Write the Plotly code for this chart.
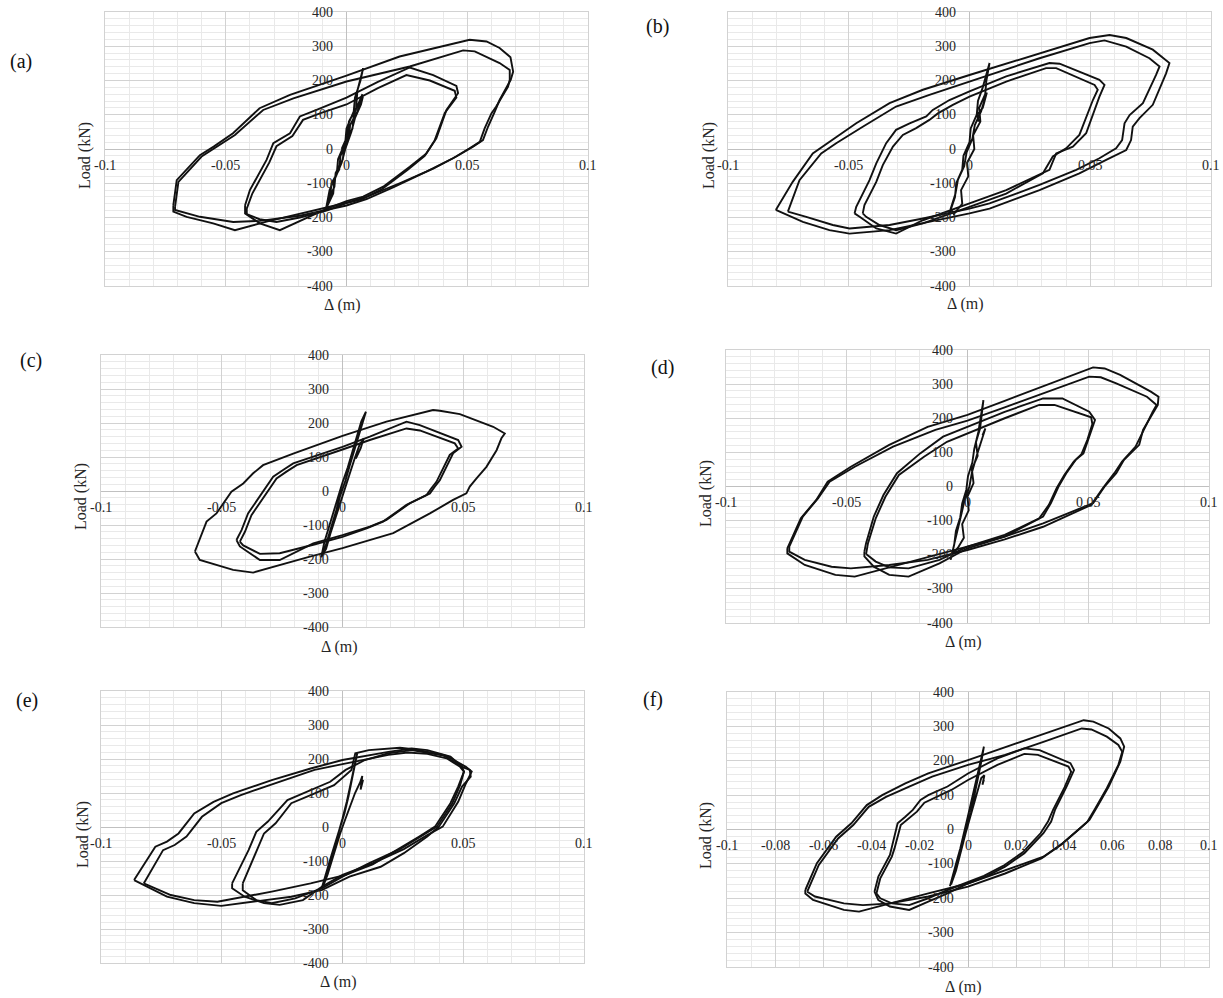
import plotly.graph_objects as go

W, H = 1223, 998

# ---------------- data (displacement in m, load in kN) ----------------
Y_TICKS = [400, 300, 200, 100, 0, -100, -200, -300, -400]
X_TICKS_STD = [-0.1, -0.05, 0, 0.05, 0.1]
X_TEXT_STD = ["-0.1", "-0.05", "0", "0.05", "0.1"]
X_TICKS_F = [-0.1, -0.08, -0.06, -0.04, -0.02, 0, 0.02, 0.04, 0.06, 0.08, 0.1]
X_TEXT_F = ["-0.1", "-0.08", "-0.06", "-0.04", "-0.02", "0", "0.02", "0.04", "0.06", "0.08", "0.1"]

# Panel (a)
A_SMALL_X = [-0.002, 0.0005, 0.001, 0.004, 0.0045, 0.0069, 0.0058, 0.0035, 0.003, 0.0, -0.0005, -0.0035, -0.004, -0.007, -0.0085, -0.0068, -0.0062, -0.003, -0.0025, 0.001, 0.0015, 0.0045, 0.0068, 0.006, 0.0035, 0.002, -0.0005, -0.002, -0.005, -0.0055, -0.0082, -0.0075, -0.005, -0.0045, -0.0015, -0.001, 0.0025, 0.003, 0.0055, 0.0066]
A_SMALL_Y = [0, 40, 80, 120, 170, 236, 200, 150, 110, 60, 20, -30, -70, -120, -175, -140, -100, -60, -20, 30, 70, 110, 153, 130, 90, 50, 0, -40, -90, -130, -170, -150, -110, -70, -30, 10, 60, 100, 140, 160]
A_OUT1_X = [-0.0717, -0.0703, -0.0607, -0.055, -0.047, -0.036, -0.0234, 0.0, 0.022, 0.051, 0.058, 0.0634, 0.0679, 0.069, 0.068, 0.0634, 0.0614, 0.0586, 0.0565, 0.0524, 0.0455, 0.0359, 0.022, 0.0083, 0.0, -0.0193, -0.0331, -0.0462, -0.0552, -0.0662, -0.0717, -0.0717]
A_OUT1_Y = [-164, -91, -18, 7, 46, 119, 158, 214, 270, 319, 314, 295, 268, 226, 202, 143, 109, 65, 26, 7, -22, -57, -100, -140, -157, -190, -212, -237, -217, -198, -183, -164]
A_OUT2_X = [-0.071, -0.0696, -0.06, -0.0524, -0.0462, -0.0345, -0.022, 0.0, 0.0262, 0.0483, 0.0531, 0.0634, 0.0676, 0.0676, 0.0669, 0.062, 0.06, 0.0572, 0.0552, 0.051, 0.0441, 0.0331, 0.0193, 0.0083, 0.0, -0.0193, -0.0359, -0.0469, -0.0607, -0.071, -0.071]
A_OUT2_Y = [-169, -96, -22, 12, 41, 114, 148, 197, 241, 288, 285, 251, 231, 202, 182, 124, 104, 60, 21, 2, -27, -66, -112, -146, -165, -195, -210, -213, -198, -178, -169]
A_IN1_X = [-0.042, -0.04, -0.0331, -0.0303, -0.0234, -0.0193, -0.0124, 0.0, 0.013, 0.0262, 0.0359, 0.0455, 0.0462, 0.0414, 0.0372, 0.0331, 0.0262, 0.0152, 0.0069, 0.0, -0.0083, -0.0193, -0.0276, -0.0359, -0.042, -0.042]
A_IN1_Y = [-164, -120, -32, 17, 46, 95, 114, 150, 196, 238, 216, 184, 163, 114, 31, -13, -52, -110, -139, -152, -175, -210, -237, -217, -188, -164]
A_IN2_X = [-0.0413, -0.039, -0.032, -0.029, -0.0224, -0.018, -0.011, 0.0, 0.013, 0.0248, 0.0345, 0.0448, 0.0455, 0.0407, 0.0365, 0.0324, 0.0255, 0.0145, 0.0062, 0.0, -0.0083, -0.0193, -0.029, -0.036, -0.0413, -0.0413]
A_IN2_Y = [-174, -130, -40, 8, 38, 85, 104, 130, 178, 216, 200, 170, 150, 105, 25, -20, -60, -118, -147, -158, -180, -200, -213, -205, -190, -174]

# Panel (b)
B_SMALL_X = [-0.0083, -0.006, -0.0055, -0.003, -0.0025, 0.0, 0.0005, 0.003, 0.0035, 0.0055, 0.0083, 0.007, 0.0065, 0.004, 0.0045, 0.0015, 0.002, -0.001, -0.0005, -0.0035, -0.003, -0.0065, -0.0078, -0.0058, -0.0048, -0.0022, -0.0012, 0.0012, 0.0022, 0.0048, 0.0072, 0.0062, 0.0055, 0.0032, 0.0038]
B_SMALL_Y = [-188, -140, -100, -60, -20, 20, 60, 100, 140, 180, 251, 200, 160, 120, 80, 40, 0, -40, -80, -120, -160, -190, -175, -130, -90, -50, -10, 30, 70, 110, 165, 140, 120, 100, 80]
B_OUT1_X = [-0.0802, -0.0732, -0.0649, -0.058, -0.0469, -0.0331, -0.0193, 0.0, 0.029, 0.0497, 0.058, 0.0649, 0.0759, 0.0828, 0.0814, 0.0759, 0.0704, 0.0676, 0.0669, 0.0649, 0.0566, 0.0455, 0.029, 0.0083, 0.0, -0.0193, -0.0331, -0.0497, -0.058, -0.069, -0.0802]
B_OUT1_Y = [-178, -96, -13, 21, 75, 134, 173, 216, 280, 324, 333, 324, 290, 251, 221, 129, 90, 65, 26, -3, -32, -71, -120, -174, -188, -217, -237, -247, -237, -213, -178]
B_OUT2_X = [-0.0752, -0.0704, -0.0614, -0.0552, -0.0442, -0.0304, -0.0166, 0.0, 0.029, 0.0497, 0.0559, 0.0649, 0.0745, 0.0787, 0.0773, 0.0718, 0.0663, 0.0642, 0.0632, 0.0607, 0.0538, 0.0442, 0.029, 0.0083, 0.0, -0.0193, -0.0331, -0.0497, -0.0566, -0.0676, -0.0752]
B_OUT2_Y = [-183, -91, -13, 17, 65, 124, 158, 197, 265, 309, 317, 299, 265, 241, 217, 134, 99, 75, 26, 2, -27, -61, -105, -159, -174, -203, -222, -232, -222, -198, -183]
B_IN1_X = [-0.0476, -0.0469, -0.0414, -0.0386, -0.0345, -0.0304, -0.0248, -0.0179, -0.0152, -0.0083, 0.0, 0.0152, 0.0331, 0.0373, 0.0538, 0.0559, 0.0538, 0.0483, 0.0428, 0.0359, 0.0331, 0.0152, 0.0, -0.0193, -0.0304, -0.0386, -0.0455, -0.0476]
B_IN1_Y = [-188, -169, -91, -42, 17, 56, 75, 95, 114, 143, 168, 212, 251, 249, 202, 187, 153, 46, 7, -13, -61, -120, -159, -208, -247, -232, -198, -188]
B_IN2_X = [-0.0442, -0.0435, -0.0386, -0.0359, -0.0317, -0.0276, -0.0221, -0.0166, -0.0131, -0.0069, 0.0, 0.0152, 0.0317, 0.0359, 0.0518, 0.0531, 0.0511, 0.0455, 0.04, 0.0345, 0.0304, 0.0152, 0.0, -0.0193, -0.0304, -0.0373, -0.0428, -0.0442]
B_IN2_Y = [-188, -164, -96, -47, 7, 41, 61, 85, 104, 129, 153, 197, 236, 236, 187, 173, 143, 41, 2, -22, -71, -130, -169, -217, -237, -222, -198, -188]

# Panel (c)
C_SMALL_X = [-0.008, -0.006, -0.0045, -0.0025, -0.001, 0.0012, 0.003, 0.005, 0.0068, 0.0085, 0.0097, 0.0078, 0.006, 0.0042, 0.0022, 0.0, -0.002, -0.004, -0.0058, -0.0075, -0.0088, -0.0068, -0.005, -0.003, -0.001, 0.001, 0.003, 0.005, 0.007, 0.0088, 0.0075, 0.0055]
C_SMALL_Y = [-185, -140, -100, -55, -15, 30, 75, 120, 165, 205, 233, 205, 160, 115, 70, 25, -20, -65, -110, -150, -195, -170, -125, -80, -35, 10, 55, 95, 135, 155, 125, 95]
C_OUT_X = [-0.0611, -0.0563, -0.0522, -0.046, -0.0411, -0.037, -0.0329, -0.0204, 0.0, 0.0182, 0.0375, 0.0403, 0.0486, 0.0624, 0.0672, 0.0658, 0.0638, 0.0596, 0.0555, 0.0527, 0.0513, 0.0458, 0.0362, 0.021, 0.0, -0.0135, -0.037, -0.0453, -0.0591, -0.0611]
C_OUT_Y = [-178, -90, -66, -2, 22, 52, 76, 110, 162, 204, 238, 236, 226, 189, 169, 155, 120, 71, 37, 13, -7, -26, -66, -124, -168, -193, -240, -232, -203, -178]
C_IN1_X = [-0.0439, -0.0418, -0.0391, -0.0329, -0.0287, -0.0246, -0.0204, 0.0, 0.0113, 0.0265, 0.032, 0.0479, 0.0493, 0.0458, 0.0403, 0.0382, 0.0362, 0.0279, 0.0182, 0.0113, 0.0, -0.0121, -0.026, -0.0342, -0.0425, -0.0439]
C_IN1_Y = [-144, -115, -66, -2, 42, 62, 81, 130, 160, 204, 194, 150, 130, 111, 32, 13, -7, -36, -85, -105, -130, -154, -203, -203, -163, -144]
C_IN2_X = [-0.0425, -0.0404, -0.0377, -0.0315, -0.0273, -0.0232, -0.019, 0.0, 0.0113, 0.0265, 0.032, 0.0465, 0.0479, 0.0444, 0.0389, 0.0368, 0.0348, 0.0265, 0.0168, 0.01, 0.0, -0.0121, -0.026, -0.0342, -0.0411, -0.0425]
C_IN2_Y = [-149, -120, -71, -7, 37, 57, 76, 122, 150, 184, 178, 140, 125, 106, 27, 8, -12, -41, -90, -110, -135, -158, -183, -185, -160, -149]

# Panel (d)
D_SMALL_X = [-0.007, -0.0055, -0.0048, -0.003, -0.0022, -0.0005, 0.0002, 0.002, 0.0028, 0.0045, 0.0066, 0.0058, 0.0052, 0.0035, 0.0042, 0.0018, 0.0025, 0.0, 0.0005, -0.0022, -0.0015, -0.004, -0.0065, -0.0052, -0.004, -0.0025, -0.0012, 0.0008, 0.0018, 0.0038, 0.0074, 0.0062]
D_SMALL_Y = [-215, -170, -130, -90, -50, -10, 30, 70, 110, 160, 253, 210, 170, 130, 90, 50, 10, -30, -70, -110, -150, -180, -200, -160, -120, -80, -40, 0, 40, 90, 170, 150]
D_OUT1_X = [-0.0746, -0.069, -0.0627, -0.0579, -0.0483, -0.0324, -0.0165, 0.0, 0.0154, 0.0313, 0.052, 0.0568, 0.0632, 0.0759, 0.0791, 0.0788, 0.0727, 0.0711, 0.0648, 0.0616, 0.0568, 0.052, 0.0313, 0.0154, 0.0, -0.0165, -0.0324, -0.0467, -0.0547, -0.0674, -0.0746, -0.0746]
D_OUT1_Y = [-181, -93, -40, 14, 58, 122, 175, 210, 251, 293, 349, 346, 327, 278, 263, 239, 166, 122, 78, 39, 0, -49, -108, -147, -176, -206, -235, -264, -259, -230, -196, -181]
D_OUT2_X = [-0.0738, -0.0682, -0.0619, -0.0571, -0.0467, -0.0308, -0.0133, 0.0, 0.0154, 0.0313, 0.0504, 0.0552, 0.0616, 0.0743, 0.0783, 0.0767, 0.0711, 0.0696, 0.064, 0.0608, 0.056, 0.0512, 0.0313, 0.0154, 0.0, -0.0165, -0.0324, -0.0483, -0.0563, -0.0674, -0.0738, -0.0738]
D_OUT2_Y = [-176, -88, -35, 14, 58, 117, 166, 193, 232, 273, 322, 320, 302, 263, 239, 219, 136, 117, 73, 39, -5, -54, -118, -155, -186, -215, -230, -240, -235, -215, -191, -176]
D_IN1_X = [-0.0427, -0.042, -0.0388, -0.0348, -0.0292, -0.0196, -0.0101, 0.0, 0.0154, 0.0313, 0.0393, 0.0504, 0.0528, 0.0504, 0.048, 0.0448, 0.0409, 0.0377, 0.0345, 0.0313, 0.0154, 0.0, -0.0116, -0.0244, -0.0324, -0.0388, -0.0427, -0.0427]
D_IN1_Y = [-191, -166, -88, -25, 39, 97, 146, 175, 219, 258, 258, 219, 195, 146, 97, 78, 39, 0, -49, -88, -147, -181, -225, -264, -259, -235, -205, -191]
D_IN2_X = [-0.042, -0.0412, -0.038, -0.034, -0.0284, -0.018, -0.0085, 0.0, 0.0154, 0.0297, 0.036, 0.0512, 0.0517, 0.0496, 0.0472, 0.044, 0.0401, 0.0369, 0.0337, 0.0297, 0.0154, 0.0, -0.0116, -0.0244, -0.0324, -0.038, -0.042]
D_IN2_Y = [-198, -166, -93, -30, 34, 87, 131, 156, 200, 239, 239, 203, 183, 136, 95, 73, 34, -5, -54, -93, -142, -176, -215, -240, -237, -220, -198]

# Panel (e)
E_SMALL_X = [-0.0084, -0.0068, -0.0055, -0.004, -0.0025, -0.001, 0.0008, 0.0025, 0.004, 0.0053, 0.0061, 0.005, 0.0035, 0.0018, 0.0, -0.0018, -0.0035, -0.005, -0.0065, -0.0078, -0.0062, -0.0045, -0.003, -0.001, 0.001, 0.003, 0.0052, 0.0072, 0.0085, 0.0075, 0.0082, 0.007]
E_SMALL_Y = [-175, -140, -105, -70, -35, 0, 40, 90, 140, 185, 217, 175, 125, 75, 25, -20, -60, -100, -140, -170, -140, -100, -60, -20, 20, 60, 100, 130, 138, 110, 150, 125]
E_L1_X = [-0.0863, -0.0775, -0.0727, -0.0679, -0.0614, -0.0534, -0.0453, -0.0293, -0.0132, 0.0, 0.019, 0.0286, 0.0351, 0.0447, 0.0495, 0.0527, 0.0531, 0.0495, 0.0463, 0.0399, 0.0351, 0.0254, 0.0158, 0.0029, -0.0084, -0.0212, -0.0502, -0.0614, -0.0727, -0.0863]
E_L1_Y = [-156, -58, -43, -19, 40, 74, 99, 138, 172, 197, 221, 231, 226, 207, 177, 168, 148, 119, 70, 1, -28, -77, -117, -146, -185, -205, -232, -224, -205, -156]
E_L2_X = [-0.0823, -0.0743, -0.0695, -0.0646, -0.0582, -0.0502, -0.0421, -0.0277, -0.0116, 0.0, 0.019, 0.027, 0.0351, 0.0431, 0.0487, 0.0503, 0.0479, 0.0447, 0.0383, 0.0318, 0.0222, 0.0125, 0.0013, -0.0132, -0.0293, -0.0518, -0.0614, -0.0711, -0.0823]
E_L2_Y = [-166, -68, -53, -28, 30, 70, 94, 128, 168, 185, 212, 219, 215, 202, 177, 163, 119, 70, 1, -28, -70, -110, -141, -166, -190, -220, -215, -200, -166]
E_S1_X = [-0.0457, -0.0429, -0.0389, -0.0357, -0.0309, -0.0228, -0.0148, -0.0051, 0.0013, 0.0093, 0.019, 0.0286, 0.0431, 0.0511, 0.0535, 0.0511, 0.0479, 0.0415, 0.0351, 0.0254, 0.0125, 0.0, -0.0084, -0.0164, -0.026, -0.0325, -0.0405, -0.0457, -0.0457]
E_S1_Y = [-166, -126, -68, -14, 16, 79, 104, 133, 168, 197, 217, 226, 209, 177, 163, 128, 74, 1, -24, -65, -107, -141, -175, -215, -229, -224, -205, -180, -166]
E_S2_X = [-0.0413, -0.0389, -0.0357, -0.0325, -0.0277, -0.0212, -0.0132, -0.0035, 0.0037, 0.0053, 0.0109, 0.0238, 0.0302, 0.0415, 0.0495, 0.0503, 0.0487, 0.0455, 0.0391, 0.0334, 0.0238, 0.0109, 0.0, -0.0084, -0.0196, -0.0293, -0.0357, -0.0413, -0.0413]
E_S2_Y = [-166, -126, -73, -19, 11, 70, 94, 123, 168, 217, 226, 233, 228, 212, 177, 163, 123, 70, 1, -24, -65, -107, -146, -180, -210, -224, -215, -186, -166]

# Panel (f)
F_SMALL_X = [-0.0075, -0.006, -0.0048, -0.0032, -0.002, -0.0005, 0.001, 0.0025, 0.004, 0.0052, 0.0066, 0.0056, 0.0042, 0.0028, 0.0012, -0.0004, -0.002, -0.0035, -0.005, -0.0065, -0.007, -0.0056, -0.0042, -0.0026, -0.001, 0.0006, 0.0022, 0.0038, 0.0055, 0.0068, 0.006, 0.0066]
F_SMALL_Y = [-165, -130, -95, -55, -15, 25, 70, 115, 160, 200, 241, 200, 150, 100, 50, 5, -40, -80, -120, -150, -160, -125, -90, -50, -10, 30, 75, 115, 150, 158, 130, 145]
F_OUT1_X = [-0.0675, -0.0627, -0.0547, -0.0484, -0.042, -0.0356, -0.026, -0.0165, 0.0, 0.0154, 0.0313, 0.048, 0.052, 0.0584, 0.0632, 0.0648, 0.0632, 0.0584, 0.0536, 0.0504, 0.0472, 0.0393, 0.0313, 0.0154, 0.0, -0.0165, -0.0324, -0.0452, -0.0515, -0.0643, -0.0675, -0.0675]
F_OUT1_Y = [-176, -98, -21, 18, 71, 100, 134, 163, 202, 239, 278, 318, 314, 294, 265, 241, 197, 125, 66, 28, 8, -40, -79, -118, -157, -186, -215, -239, -234, -205, -186, -176]
F_OUT2_X = [-0.0667, -0.0619, -0.0539, -0.0476, -0.0412, -0.034, -0.0244, -0.0149, 0.0, 0.0154, 0.0313, 0.0472, 0.0512, 0.0576, 0.0624, 0.064, 0.0624, 0.0576, 0.0528, 0.0496, 0.0464, 0.0385, 0.0305, 0.0154, 0.0, -0.0165, -0.0324, -0.0436, -0.0515, -0.0635, -0.0667]
F_OUT2_Y = [-181, -103, -26, 13, 66, 95, 125, 154, 188, 217, 255, 294, 291, 270, 246, 226, 188, 120, 61, 23, 3, -45, -84, -128, -166, -195, -215, -220, -215, -195, -181]
F_IN1_X = [-0.0388, -0.0372, -0.0324, -0.0316, -0.0292, -0.026, -0.0229, -0.0197, -0.0165, -0.0085, 0.0, 0.0122, 0.0234, 0.0297, 0.0425, 0.044, 0.0409, 0.0361, 0.0345, 0.0313, 0.0234, 0.0154, 0.0074, 0.0, -0.0085, -0.0165, -0.0244, -0.0324, -0.0372, -0.0388]
F_IN1_Y = [-181, -137, -74, -50, 18, 37, 57, 86, 100, 125, 163, 207, 236, 231, 193, 173, 125, 57, 23, -11, -69, -108, -137, -157, -186, -210, -234, -224, -205, -181]
F_IN2_X = [-0.038, -0.0364, -0.0316, -0.0305, -0.0279, -0.0244, -0.0212, -0.0181, -0.0141, -0.0069, 0.0, 0.0122, 0.0234, 0.029, 0.0417, 0.0428, 0.0401, 0.0353, 0.0332, 0.0301, 0.0226, 0.0146, 0.0066, 0.0, -0.0085, -0.0165, -0.0244, -0.0316, -0.0364, -0.038]
F_IN2_Y = [-186, -142, -79, -55, 13, 32, 52, 78, 91, 115, 144, 188, 220, 217, 183, 168, 123, 57, 23, -11, -67, -106, -135, -152, -176, -200, -220, -215, -200, -186]

# ---------------- layout config (pixel boxes of the plot areas) ----------------
PANELS = [
    dict(label="(a)", box=(105, 12, 588, 286), lab=(21, 62), ytitle=(85, 156), xtitle=(342, 305),
         xt=(X_TICKS_STD, X_TEXT_STD), xmaj=0.05,
         curves=[(A_OUT1_X, A_OUT1_Y), (A_OUT2_X, A_OUT2_Y), (A_IN1_X, A_IN1_Y), (A_IN2_X, A_IN2_Y), (A_SMALL_X, A_SMALL_Y)]),
    dict(label="(b)", box=(728, 12, 1211, 286), lab=(657, 27), ytitle=(709, 156), xtitle=(965, 304),
         xt=(X_TICKS_STD, X_TEXT_STD), xmaj=0.05,
         curves=[(B_OUT1_X, B_OUT1_Y), (B_OUT2_X, B_OUT2_Y), (B_IN1_X, B_IN1_Y), (B_IN2_X, B_IN2_Y), (B_SMALL_X, B_SMALL_Y)]),
    dict(label="(c)", box=(101, 355, 584, 627), lab=(31, 360), ytitle=(81, 497), xtitle=(339, 647),
         xt=(X_TICKS_STD, X_TEXT_STD), xmaj=0.05,
         curves=[(C_OUT_X, C_OUT_Y), (C_IN1_X, C_IN1_Y), (C_IN2_X, C_IN2_Y), (C_SMALL_X, C_SMALL_Y)]),
    dict(label="(d)", box=(726, 350, 1209, 623), lab=(663, 367), ytitle=(706, 494), xtitle=(963, 642),
         xt=(X_TICKS_STD, X_TEXT_STD), xmaj=0.05,
         curves=[(D_OUT1_X, D_OUT1_Y), (D_OUT2_X, D_OUT2_Y), (D_IN1_X, D_IN1_Y), (D_IN2_X, D_IN2_Y), (D_SMALL_X, D_SMALL_Y)]),
    dict(label="(e)", box=(101, 691, 584, 963), lab=(27, 700), ytitle=(83, 835), xtitle=(338, 982),
         xt=(X_TICKS_STD, X_TEXT_STD), xmaj=0.05,
         curves=[(E_L1_X, E_L1_Y), (E_L2_X, E_L2_Y), (E_S1_X, E_S1_Y), (E_S2_X, E_S2_Y), (E_SMALL_X, E_SMALL_Y)]),
    dict(label="(f)", box=(727, 692, 1209, 967), lab=(653, 699), ytitle=(706, 836), xtitle=(963, 987),
         xt=(X_TICKS_F, X_TEXT_F), xmaj=0.02,
         curves=[(F_OUT1_X, F_OUT1_Y), (F_OUT2_X, F_OUT2_Y), (F_IN1_X, F_IN1_Y), (F_IN2_X, F_IN2_Y), (F_SMALL_X, F_SMALL_Y)]),
]

FONT = "Liberation Serif"
LINE_C = "#111111"
MAJ_C = "#d2d2d2"
MIN_C = "#e9e9e9"
ZERO_C = "#c0c0c0"
TXT_C = "#262626"

fig = go.Figure()
layout = dict(width=W, height=H, autosize=False, margin=dict(l=0, r=0, t=0, b=0),
              paper_bgcolor="white", plot_bgcolor="white", showlegend=False,
              font=dict(family=FONT, color=TXT_C))
annotations = []

for i, p in enumerate(PANELS, start=1):
    sfx = "" if i == 1 else str(i)
    xr, yr = "x" + sfx, "y" + sfx
    x0, y0, x1, y1 = p["box"]
    layout["xaxis" + sfx] = dict(
        domain=[x0 / W, x1 / W], range=[-0.1, 0.1], anchor=yr, tick0=0, dtick=p["xmaj"],
        showticklabels=False, ticks="", showgrid=True, gridcolor=MAJ_C, gridwidth=1,
        minor=dict(tick0=0, dtick=0.01, showgrid=True, gridcolor=MIN_C, gridwidth=1),
        zeroline=True, zerolinecolor=ZERO_C, zerolinewidth=1,
        showline=True, mirror=True, linecolor=MAJ_C, linewidth=1, fixedrange=True)
    layout["yaxis" + sfx] = dict(
        domain=[1 - y1 / H, 1 - y0 / H], range=[-400, 400], anchor=xr, tick0=0, dtick=100,
        showticklabels=False, ticks="", showgrid=True, gridcolor=MAJ_C, gridwidth=1,
        minor=dict(tick0=0, dtick=20, showgrid=True, gridcolor=MIN_C, gridwidth=1),
        zeroline=True, zerolinecolor=ZERO_C, zerolinewidth=1,
        showline=True, mirror=True, linecolor=MAJ_C, linewidth=1, fixedrange=True)

    for xs, ys in p["curves"]:
        fig.add_trace(go.Scatter(x=xs, y=ys, mode="lines", xaxis=xr, yaxis=yr,
                                 line=dict(color=LINE_C, width=1.9), hoverinfo="skip"))

    # y tick labels next to the vertical zero axis
    for v in Y_TICKS:
        annotations.append(dict(x=0, y=v, xref=xr, yref=yr, text=str(v), showarrow=False,
                                xanchor="right", yanchor="middle", xshift=-12,
                                font=dict(family=FONT, size=14, color=TXT_C)))
    # x tick labels under the horizontal zero axis
    for v, t in zip(*p["xt"]):
        annotations.append(dict(x=v, y=0, xref=xr, yref=yr, text=t, showarrow=False,
                                xanchor="center", yanchor="middle", yshift=-16,
                                font=dict(family=FONT, size=14, color=TXT_C)))
    # panel label
    lx, ly = p["lab"]
    annotations.append(dict(x=lx / W, y=1 - ly / H, xref="paper", yref="paper", text=p["label"],
                            showarrow=False, xanchor="center", yanchor="middle",
                            font=dict(family=FONT, size=20, color="#111111")))
    tx, ty = p["ytitle"]
    annotations.append(dict(x=tx / W, y=1 - ty / H, xref="paper", yref="paper", text="Load (kN)",
                            showarrow=False, xanchor="center", yanchor="middle", textangle=-90,
                            font=dict(family=FONT, size=16, color=TXT_C)))
    tx, ty = p["xtitle"]
    annotations.append(dict(x=tx / W, y=1 - ty / H, xref="paper", yref="paper", text="Δ (m)",
                            showarrow=False, xanchor="center", yanchor="middle",
                            font=dict(family=FONT, size=16, color=TXT_C)))

layout["annotations"] = annotations
fig.update_layout(**layout)
fig.write_html("out.html")
